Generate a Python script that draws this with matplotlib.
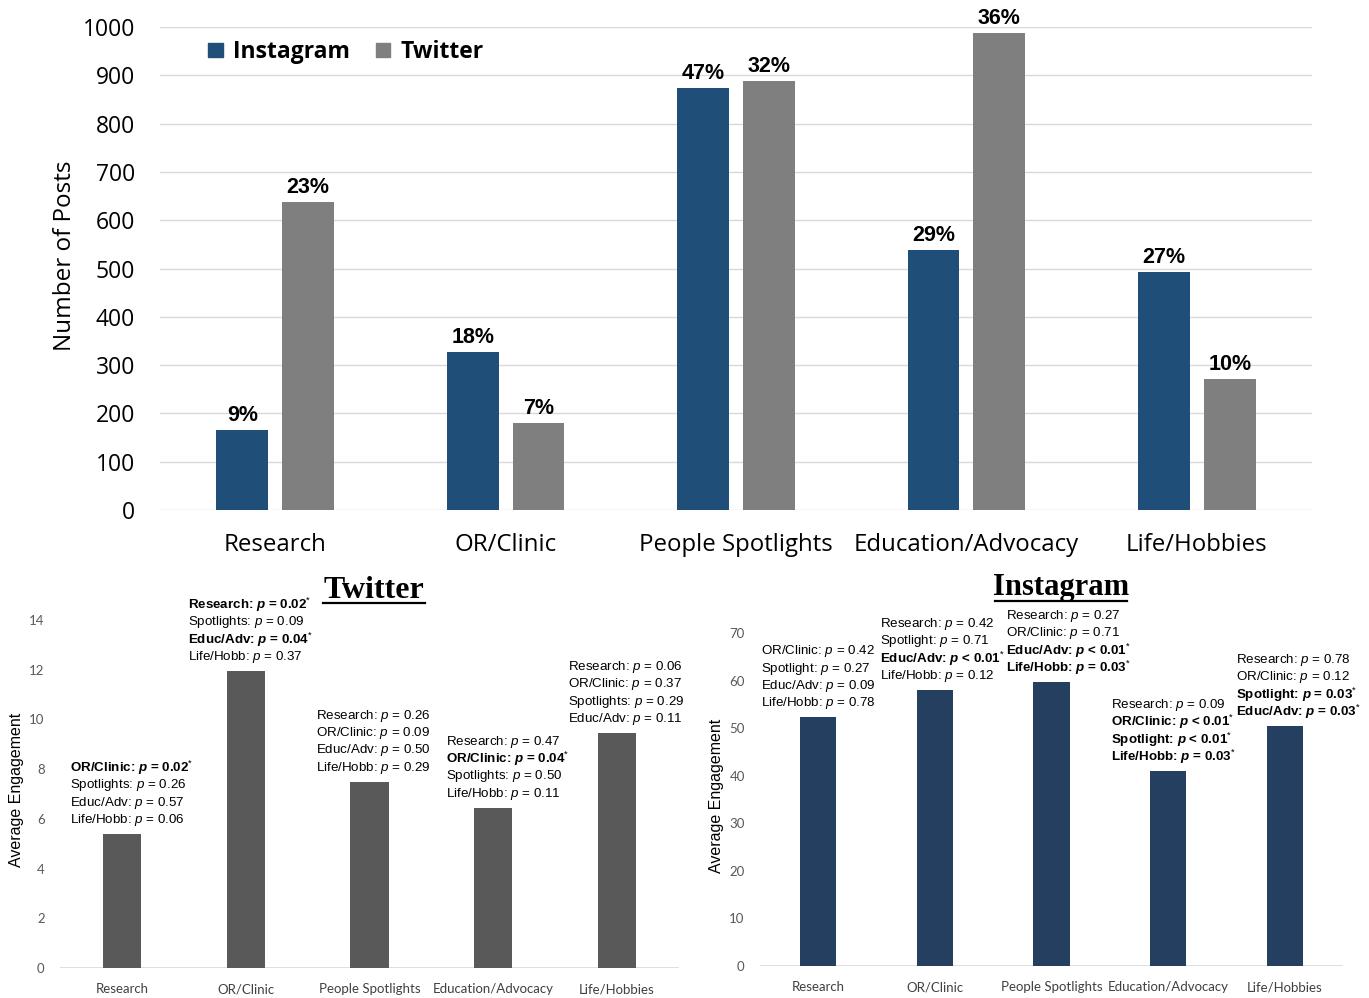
import matplotlib
matplotlib.use("Agg")
import matplotlib.pyplot as plt
from matplotlib import font_manager
from matplotlib.lines import Line2D
from matplotlib.patches import Patch
import numpy as np

# ---------------- data ----------------
categories = ["Research", "OR/Clinic", "People Spotlights", "Education/Advocacy", "Life/Hobbies"]
posts_instagram = [165, 327, 874, 538, 493]
posts_twitter = [638, 180, 888, 988, 271]
pct_instagram = ["9%", "18%", "47%", "29%", "27%"]
pct_twitter = ["23%", "7%", "32%", "36%", "10%"]

eng_twitter = [5.4, 11.95, 7.5, 6.45, 9.45]
eng_instagram = [52.3, 58.0, 59.7, 41.0, 50.5]

# (comparison, operator, p value, significant)
pvals_twitter = [
    [("OR/Clinic", "=", "0.02", True), ("Spotlights", "=", "0.26", False),
     ("Educ/Adv", "=", "0.57", False), ("Life/Hobb", "=", "0.06", False)],
    [("Research", "=", "0.02", True), ("Spotlights", "=", "0.09", False),
     ("Educ/Adv", "=", "0.04", True), ("Life/Hobb", "=", "0.37", False)],
    [("Research", "=", "0.26", False), ("OR/Clinic", "=", "0.09", False),
     ("Educ/Adv", "=", "0.50", False), ("Life/Hobb", "=", "0.29", False)],
    [("Research", "=", "0.47", False), ("OR/Clinic", "=", "0.04", True),
     ("Spotlights", "=", "0.50", False), ("Life/Hobb", "=", "0.11", False)],
    [("Research", "=", "0.06", False), ("OR/Clinic", "=", "0.37", False),
     ("Spotlights", "=", "0.29", False), ("Educ/Adv", "=", "0.11", False)],
]
pvals_instagram = [
    [("OR/Clinic", "=", "0.42", False), ("Spotlight", "=", "0.27", False),
     ("Educ/Adv", "=", "0.09", False), ("Life/Hobb", "=", "0.78", False)],
    [("Research", "=", "0.42", False), ("Spotlight", "=", "0.71", False),
     ("Educ/Adv", "<", "0.01", True), ("Life/Hobb", "=", "0.12", False)],
    [("Research", "=", "0.27", False), ("OR/Clinic", "=", "0.71", False),
     ("Educ/Adv", "<", "0.01", True), ("Life/Hobb", "=", "0.03", True)],
    [("Research", "=", "0.09", False), ("OR/Clinic", "<", "0.01", True),
     ("Spotlight", "<", "0.01", True), ("Life/Hobb", "=", "0.03", True)],
    [("Research", "=", "0.78", False), ("OR/Clinic", "=", "0.12", False),
     ("Spotlight", "=", "0.03", True), ("Educ/Adv", "=", "0.03", True)],
]

top_yticks = list(range(0, 1001, 100))
tw_yticks = list(range(0, 15, 2))
ig_yticks = list(range(0, 71, 10))

# ---------------- fonts ----------------
names = {f.name for f in font_manager.fontManager.ttflist}
NARROW = "Liberation Sans Narrow" if "Liberation Sans Narrow" in names else "Liberation Sans"
MAIN = "Open Sans"
plt.rcParams["mathtext.fontset"] = "custom"
plt.rcParams["mathtext.rm"] = NARROW
plt.rcParams["mathtext.it"] = NARROW + ":italic"
plt.rcParams["mathtext.bf"] = NARROW + ":bold"
plt.rcParams["mathtext.bfit"] = NARROW + ":italic:bold"

C_IG = "#1F4E79"
C_TW = "#7F7F7F"
C_TW2 = "#595959"
C_IG2 = "#243F60"
GRID = "#D9D9D9"

W, H = 1369, 998
fig = plt.figure(figsize=(W / 100, H / 100), dpi=100)


def fr(x0, y0, x1, y1):
    return [x0 / W, 1 - y1 / H, (x1 - x0) / W, (y1 - y0) / H]


# ---------------- top chart ----------------
ax = fig.add_axes(fr(160, 27, 1312, 510))
x = np.arange(len(categories))
bw = 0.225
off = 0.143
b1 = ax.bar(x - off, posts_instagram, bw, color=C_IG, zorder=3)
b2 = ax.bar(x + off, posts_twitter, bw, color=C_TW, zorder=3)
for bars, labels in ((b1, pct_instagram), (b2, pct_twitter)):
    for rect, lab in zip(bars, labels):
        ax.annotate(lab, (rect.get_x() + rect.get_width() / 2, rect.get_height()),
                    xytext=(0, 3), textcoords="offset points", ha="center", va="bottom",
                    fontsize=15.5, fontweight="bold", family="Liberation Sans",
                    annotation_clip=False)
ax.set_xlim(-0.5, len(categories) - 0.5)
ax.set_ylim(0, 1000)
ax.set_yticks(top_yticks)
ax.set_yticklabels([str(v) for v in top_yticks], family=MAIN, fontsize=16.5)
ax.set_xticks(x)
ax.set_xticklabels(categories, family=MAIN, fontsize=17.3)
ax.tick_params(axis="y", length=0, pad=18)
ax.tick_params(axis="x", length=0, pad=16.5)
for s in ax.spines.values():
    s.set_visible(False)
ax.grid(axis="y", color=GRID, linewidth=1, zorder=0)
ax.set_axisbelow(True)
ax.legend([Patch(color=C_IG), Patch(color=C_TW)], ["Instagram", "Twitter"],
          loc="center left", bbox_to_anchor=(0.042, 0.948), ncol=2, frameon=False,
          borderaxespad=0, borderpad=0,
          handlelength=0.62, handleheight=0.62, handletextpad=0.45, columnspacing=1.15,
          prop={"family": MAIN, "weight": "bold", "size": 16.5})
fig.text(65 / W, 1 - 256 / H, "Number of Posts", rotation=90, ha="center", va="center",
         family=MAIN, fontsize=17.5)


# ---------------- bottom charts ----------------
def line_text(name, op, p, sig):
    if sig:
        return f"{name}: $\\mathbfit{{p}}$ {op} {p}$^{{*}}$"
    return f"{name}: $p$ {op} {p}"


def bottom(rect, vals, color, yticks, pvals, dx_px, ylabel_xy, title, title_xy, title_w, tsize):
    a = fig.add_axes(rect)
    xi = np.arange(len(categories))
    bars = a.bar(xi, vals, 0.31, color=color, zorder=3)
    a.set_xlim(-0.5, len(categories) - 0.5)
    a.set_ylim(0, yticks[-1])
    a.set_yticks(yticks)
    a.set_yticklabels([str(v) for v in yticks], family="Lato", fontsize=9.5, color="#595959")
    a.set_xticks(xi)
    a.set_xticklabels(categories, family="Lato", fontsize=9.5, color="#404040")
    a.tick_params(axis="y", length=0, pad=11)
    a.tick_params(axis="x", length=0, pad=11)
    for s in a.spines.values():
        s.set_visible(False)
    a.axhline(0, color=GRID, linewidth=1.2, zorder=2)
    for i, (rct, block) in enumerate(zip(bars, pvals)):
        n = len(block)
        for k, (nm, op, p, sig) in enumerate(block):
            a.annotate(line_text(nm, op, p, sig), (i, rct.get_height()),
                       xytext=(dx_px[i] * 0.72, 10 + (n - 1 - k) * 12.5),
                       textcoords="offset points",
                       ha="left", va="center", fontsize=9.6, family=NARROW,
                       fontweight="bold" if sig else "normal", annotation_clip=False)
    fig.text(ylabel_xy[0] / W, 1 - ylabel_xy[1] / H, "Average Engagement", rotation=90,
             ha="center", va="center", family="Liberation Sans", fontsize=11.5)
    fig.text(title_xy[0] / W, 1 - title_xy[1] / H, title, ha="center", va="center",
             family="Liberation Serif", fontweight="bold", fontsize=tsize)
    fig.add_artist(Line2D([(title_xy[0] - title_w / 2) / W, (title_xy[0] + title_w / 2) / W],
                          [1 - (title_xy[1] + 13) / H] * 2, color="black", linewidth=1.6))
    return a


bottom(fr(60, 620, 679, 968), eng_twitter, C_TW2, tw_yticks, pvals_twitter,
       [-52, -58, -54, -47, -49], (17, 790), "Twitter", (374, 590), 102, 23)
bottom(fr(760, 633, 1343, 966), eng_instagram, C_IG2, ig_yticks, pvals_instagram,
       [-57, -55, -46, -57, -49], (716, 796), "Instagram", (1061, 588), 132, 22)

fig.savefig("out.png", dpi=100)
